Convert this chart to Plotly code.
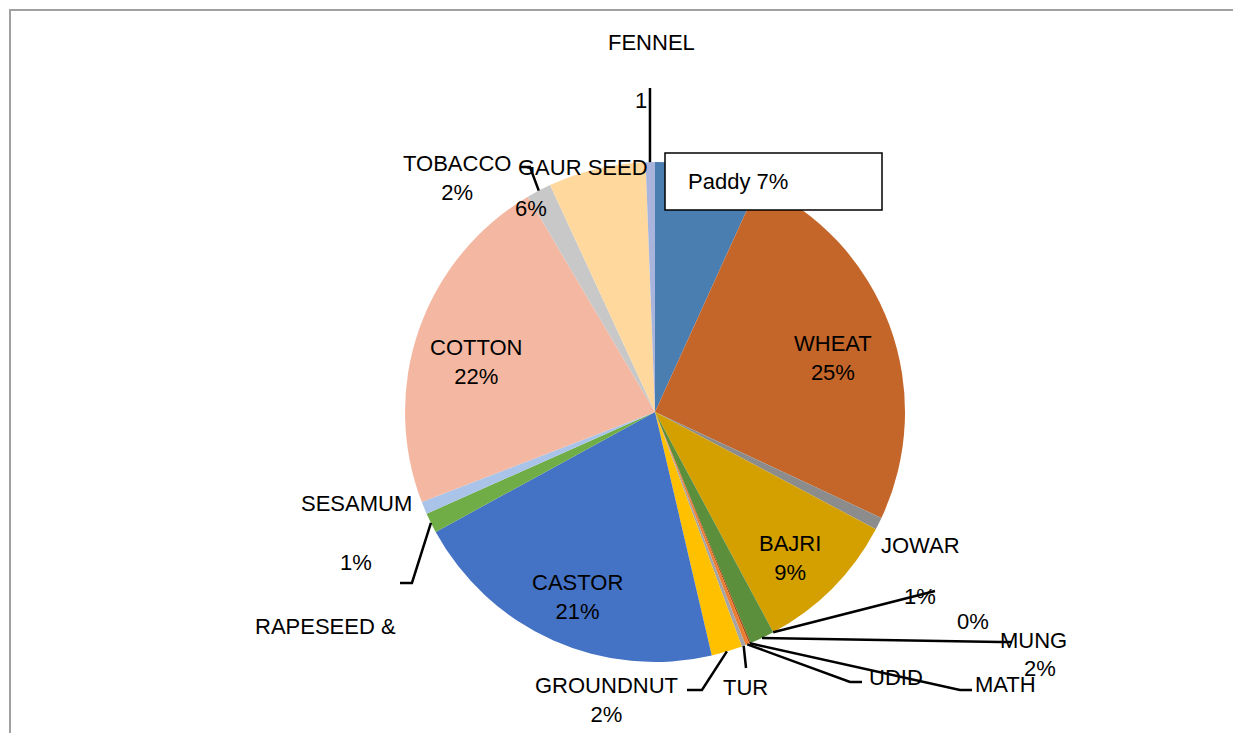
import numpy as np
import plotly.graph_objects as go

# slices, clockwise from 12 o'clock
crops = ['Paddy', 'WHEAT', 'JOWAR', 'BAJRI', 'MUNG', 'MATH', 'UDID', 'TUR',
         'GROUNDNUT', 'CASTOR', 'RAPESEED & MUSTARD', 'SESAMUM', 'COTTON',
         'TOBACCO', 'GAUR SEED', 'FENNEL']
share = [6.8, 25.2, 0.8, 9.4, 1.6, 0.1, 0.25, 0.25,
         2.0, 20.7, 1.3, 0.8, 22.4, 1.6, 6.3, 0.6]
colors = ['#4A7EB0', '#C4662A', '#8C8C8C', '#D4A000', '#5B8F3B', '#9E480E',
          '#ED7D31', '#A5A5A5', '#FFC000', '#4472C4', '#70AD47', '#A9C4E8',
          '#F4B8A2', '#C8C8C8', '#FFD89E', '#A8B4DC']

W, H = 1241, 733
OFF = 8  # page margin of the html body
CX, CY, R = 655, 412, 250
FONT = dict(family='Liberation Sans, Arial, sans-serif', size=22, color='#000000')

vals = np.array(share)
edges = np.concatenate([[0], np.cumsum(vals) / vals.sum() * 360])
mids = (edges[:-1] + edges[1:]) / 2


def px(angle, r):
    a = np.radians(angle)
    return CX + r * np.sin(a), CY - r * np.cos(a)


def paper(x, y):
    # screen pixel -> paper coords
    return (x - OFF) / W, 1 - (y - OFF) / H


fig = go.Figure(go.Pie(
    labels=crops, values=share, sort=False, direction='clockwise', rotation=0,
    marker=dict(colors=colors, line=dict(width=0)),
    textinfo='none', hoverinfo='label+percent', showlegend=False,
    domain=dict(x=[(CX - R - OFF) / W, (CX + R - OFF) / W],
                y=[1 - (CY + R - OFF) / H, 1 - (CY - R - OFF) / H]),
))

annotations = []


def text(t, x, y, anchor='center'):
    xp, yp = paper(x, y)
    annotations.append(dict(text=t, x=xp, y=yp, xref='paper', yref='paper',
                            xanchor=anchor, yanchor='middle', showarrow=False,
                            font=FONT))


# labels inside the big slices
for name in ['WHEAT', 'BAJRI', 'CASTOR', 'COTTON']:
    i = crops.index(name)
    x, y = px(mids[i], 0.76 * R)
    pct = '%d%%' % round(share[i] / vals.sum() * 100)
    text(name + '<br>' + pct, x, y + 12)

# outside labels, placed like the original
text('FENNEL', 651, 43)
text('1', 641, 100)
text('TOBACCO<br>2%', 457, 178)
text('GAUR SEED', 583, 167)
text('6%', 531, 208)
text('JOWAR', 920, 545)
text('1%', 920, 596)
text('0%', 973, 621)
text('MUNG', 1033, 640)
text('2%', 1040, 668)
text('UDID', 896, 677)
text('MATH', 1005, 684)
text('TUR', 745, 687)
text('GROUNDNUT<br>2%', 606, 700)
text('SESAMUM', 356, 503)
text('1%', 356, 562)
text('RAPESEED &', 325, 626)
text('Paddy 7%', 686, 182, anchor='left')

# leader lines: slice edge -> elbow -> end
leaders = [
    (edges[crops.index('FENNEL')] + 0.4, [(650, 88)]),
    (mids[crops.index('TOBACCO')], [(530, 167), (520, 167)]),
    (edges[crops.index('MUNG')], [(935, 591)]),
    (mids[crops.index('MUNG')], [(1000, 642), (1012, 642)]),
    (mids[crops.index('MATH')], [(960, 690), (972, 690)]),
    (mids[crops.index('UDID')], [(850, 682), (862, 682)]),
    (mids[crops.index('TUR')], [(746, 668)]),
    (mids[crops.index('GROUNDNUT')], [(702, 690), (687, 690)]),
    (mids[crops.index('RAPESEED & MUSTARD')], [(412, 583), (400, 583)]),
]
shapes = []
for ang, pts in leaders:
    x0, y0 = px(ang, R)
    if ang == leaders[0][0]:
        x0 = pts[0][0]
    path = 'M %.4f %.4f ' % paper(x0, y0)
    for (x, y) in pts:
        path += 'L %.4f %.4f ' % paper(x, y)
    shapes.append(dict(type='path', path=path, xref='paper', yref='paper',
                       line=dict(color='#000000', width=2.5)))

# Paddy callout box
bx0, by0 = paper(665, 153)
bx1, by1 = paper(882, 210)
shapes.append(dict(type='rect', x0=bx0, y0=by0, x1=bx1, y1=by1, xref='paper',
                   yref='paper', fillcolor='#FFFFFF', layer='above',
                   line=dict(color='#000000', width=1.5)))

# chart frame
fx, fy = paper(10, 10)
shapes.append(dict(type='path', path='M %.4f 0 L %.4f %.4f L 1 %.4f' % (
    fx, fx, fy, fy), xref='paper', yref='paper',
    line=dict(color='#A0A0A0', width=2)))

fig.update_layout(
    width=W, height=H, margin=dict(l=0, r=0, t=0, b=0),
    paper_bgcolor='#FFFFFF', plot_bgcolor='#FFFFFF',
    annotations=annotations, shapes=shapes,
)
fig.write_html('out.html')
